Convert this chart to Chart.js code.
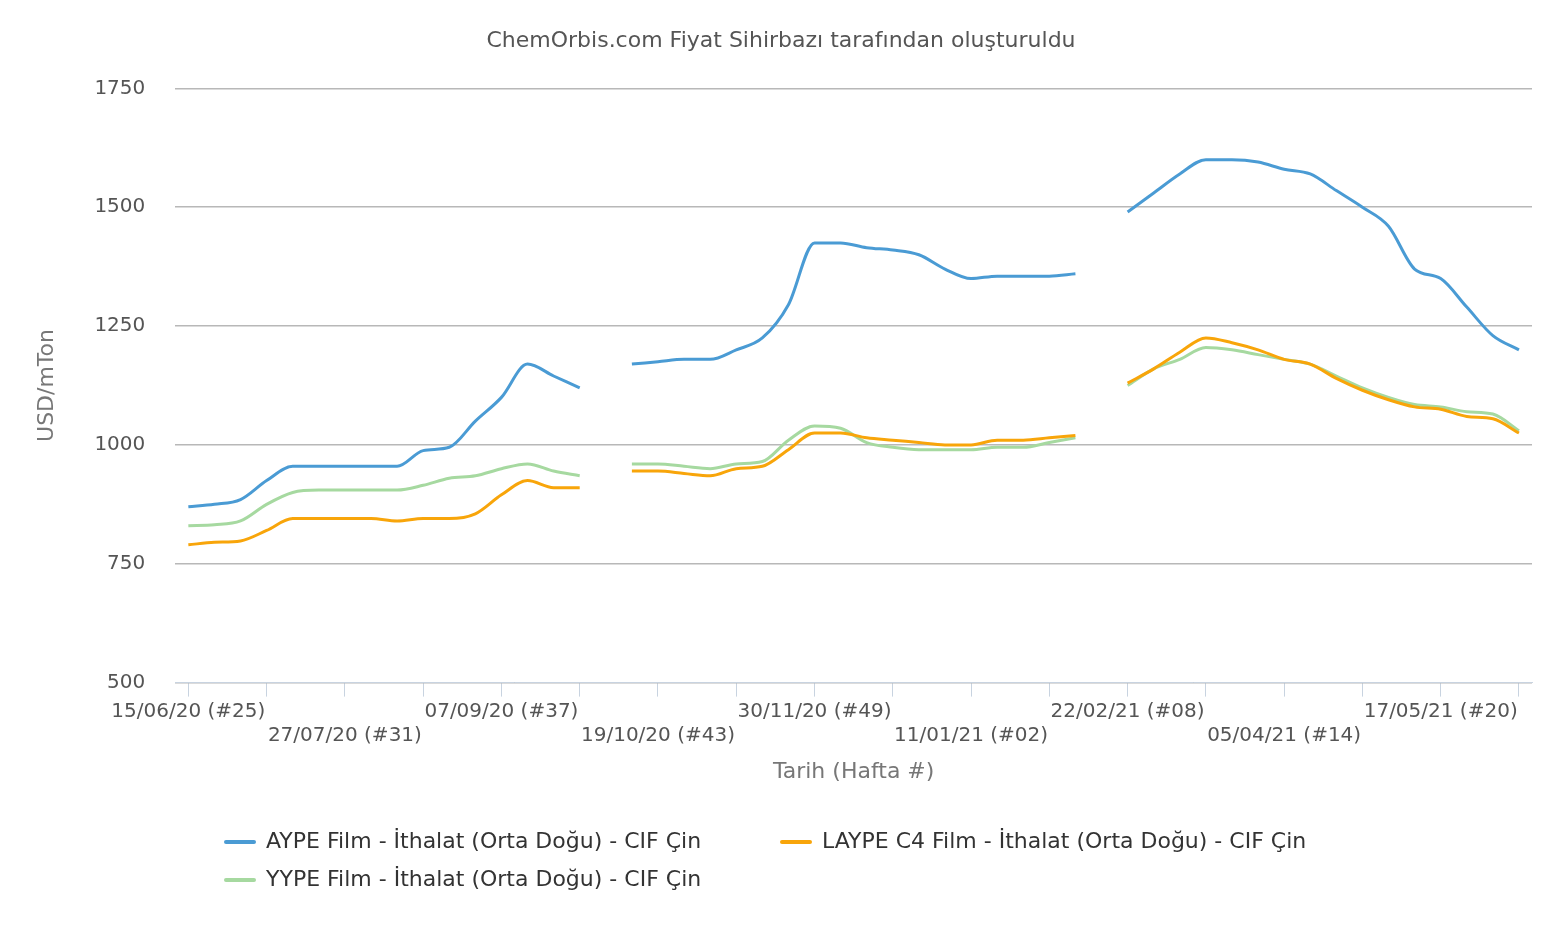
<!DOCTYPE html>
<html><head><meta charset="utf-8">
<script src="https://cdn.jsdelivr.net/npm/chart.js@4"></script>
<style>body{margin:0;background:#fff}#w{width:1552px;height:930px;position:relative}
#lg{position:absolute;left:224px;top:828px;font:22px 'DejaVu Sans';color:#333}
#lg div{position:absolute;white-space:nowrap}
#lg span{display:inline-block;width:32px;height:4px;vertical-align:middle;margin-right:10px;border-radius:2px}
</style>
</head><body><div id="w"><canvas id="c"></canvas><div id="lg"></div></div>
<script>
// weekly points starting 15/06/20 (#25), null = no quote
let tickLabels = ['15/06/20 (#25)','27/07/20 (#31)','07/09/20 (#37)','19/10/20 (#43)','30/11/20 (#49)','11/01/21 (#02)','22/02/21 (#08)','05/04/21 (#14)','17/05/21 (#20)']
let aype = [870,875,885,925,955,955,955,955,955,988,995,1050,1100,1170,1145,1120,null,
  1170,1175,1180,1180,1200,1225,1295,1425,1425,1415,1410,1400,1370,1350,1355,1355,1355,1360,null,
  1490,1530,1570,1600,1600,1595,1580,1570,1535,1500,1460,1370,1350,1290,1230,1200]
let yype = [830,832,840,875,900,905,905,905,905,915,930,935,950,960,945,935,null,
  960,960,955,950,960,965,1010,1040,1035,1005,995,990,990,990,995,995,1005,1015,null,
  1125,1160,1180,1205,1200,1190,1180,1170,1145,1120,1100,1085,1080,1070,1065,1030]
let laype = [790,795,798,820,845,845,845,845,840,845,845,855,895,925,910,910,null,
  945,945,940,935,950,955,990,1025,1025,1015,1010,1005,1000,1000,1010,1010,1015,1020,null,
  1130,1160,1195,1225,1215,1200,1180,1170,1140,1115,1095,1080,1075,1060,1055,1025]

let pts = arr => arr.map((v,i)=>({x:i,y:v}))
let ds = (label,arr,color)=>({label:label,data:pts(arr),borderColor:color,backgroundColor:color,
  borderWidth:3,pointRadius:0,cubicInterpolationMode:'monotone',spanGaps:false})

let chart = new Chart(document.getElementById('c'),{
  type:'line',
  data:{datasets:[
    ds('AYPE Film - İthalat (Orta Doğu) - CIF Çin',aype,'#4a9bd4'),
    ds('LAYPE C4 Film - İthalat (Orta Doğu) - CIF Çin',laype,'#f8a50a'),
    ds('YYPE Film - İthalat (Orta Doğu) - CIF Çin',yype,'#a6d9a0')
  ]},
  options:{
    responsive:true,maintainAspectRatio:false,animation:false,
    layout:{padding:{top:10,right:20,left:30,bottom:145}},
    plugins:{
      title:{display:true,text:'ChemOrbis.com Fiyat Sihirbazı tarafından oluşturuldu',color:'#555',
        font:{family:'DejaVu Sans',size:22,weight:'normal'},padding:{top:18,bottom:34}},
      legend:{display:false},
      tooltip:{enabled:false}
    },
    scales:{
      x:{type:'linear',min:-0.5,max:51.5,
        grid:{drawOnChartArea:false,drawTicks:true,tickLength:14,color:'#c8d3e0'},
        border:{color:'#c8d3e0'},
        afterBuildTicks:a=>{a.ticks=[];for(let i=0;i<=51;i+=3)a.ticks.push({value:i})},
        ticks:{autoSkip:false,maxRotation:0,color:'#555',font:{family:'DejaVu Sans',size:20},
          callback:v=>{let j=v/3;if(j%2)return '';let l=tickLabels[j/2];return j%4==0?[l,'']:['',l]}},
        title:{display:true,text:'Tarih (Hafta #)',color:'#777',font:{family:'DejaVu Sans',size:22},padding:{top:8,bottom:0}}
      },
      y:{min:500,max:1750,
        grid:{color:'#b8b8b8',lineWidth:1.5,drawTicks:false},border:{display:false},
        afterBuildTicks:a=>{a.ticks=[500,750,1000,1250,1500,1750].map(v=>({value:v}))},
        ticks:{color:'#555',padding:30,font:{family:'DejaVu Sans',size:20},callback:v=>String(v)},
        title:{display:true,text:'USD/mTon',color:'#777',font:{family:'DejaVu Sans',size:22}}
      }
    }
  }
})

// legend laid out in two rows like the original
let lg = document.getElementById('lg')
let pos = [[0,0],[556,0],[0,38]]
chart.data.datasets.forEach((d,i)=>{
  let e = document.createElement('div')
  e.style.left = pos[i][0]+'px'; e.style.top = pos[i][1]+'px'
  e.innerHTML = '<span style="background:'+d.borderColor+'"></span>'+d.label
  lg.appendChild(e)
})
</script></body></html>
